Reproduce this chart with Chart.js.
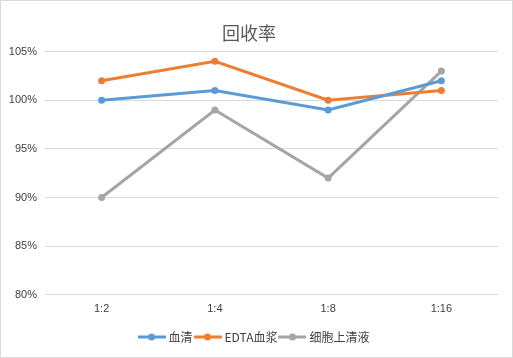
<!DOCTYPE html>
<html>
<head>
<meta charset="utf-8">
<script src="https://cdn.jsdelivr.net/npm/chart.js@4/dist/chart.umd.min.js"></script>
<style>
  html, body { margin: 0; padding: 0; background: #fff; }
  #wrap { width: 513px; height: 358px; }
</style>
</head>
<body>
<div id="wrap"><canvas id="myChart" width="513" height="358"></canvas></div>
<script>
// data
var categories = ['1:2', '1:4', '1:8', '1:16'];
var seriesNames = ['血清', 'EDTA血浆', '细胞上清液'];
var serum = [1.00, 1.01, 0.99, 1.02];
var edtaPlasma = [1.02, 1.04, 1.00, 1.01];
var cellSupernatant = [0.90, 0.99, 0.92, 1.03];
var yTicks = [0.80, 0.85, 0.90, 0.95, 1.00, 1.05];

var colors = ['#5B9BD5', '#ED7D31', '#A5A5A5'];
var cjkFont = '"Noto Sans CJK SC", "Microsoft YaHei", sans-serif';

// little line+dot swatch used as legend marker
function makeSwatch(color) {
    var c = document.createElement('canvas');
    c.width = 28;
    c.height = 8;
    var g = c.getContext('2d');
    g.strokeStyle = color;
    g.lineWidth = 3;
    g.beginPath();
    g.moveTo(0, 4);
    g.lineTo(28, 4);
    g.stroke();
    g.fillStyle = color;
    g.beginPath();
    g.arc(14, 4, 3.5, 0, Math.PI * 2);
    g.fill();
    return c;
}

var frame = {
    id: 'frame',
    afterDraw: function(chart) {
        var g = chart.ctx;
        g.save();
        g.strokeStyle = '#d9d9d9';
        g.lineWidth = 1;
        g.strokeRect(0.5, 0.5, chart.width - 1, chart.height - 1);
        g.restore();
    }
};

// nudge the legend a bit right/down, like the original
var legendShift = {
    id: 'legendShift',
    afterLayout: function(chart) {
        var lg = chart.legend;
        lg.left += 6; lg.right += 6;
        lg.top += 2; lg.bottom += 2;
    }
};

var seriesData = [serum, edtaPlasma, cellSupernatant];
var datasets = seriesData.map(function(d, i) {
    return {
        label: seriesNames[i],
        data: d,
        borderColor: colors[i],
        backgroundColor: colors[i],
        borderWidth: 3,
        pointRadius: 3.5,
        pointHoverRadius: 3.5,
        pointBorderWidth: 0,
        pointStyle: 'circle',
        legendSwatch: makeSwatch(colors[i]),
        tension: 0
    };
});

var ctx = document.getElementById('myChart').getContext('2d');
var myChart = new Chart(ctx, {
    type: 'line',
    data: { labels: categories, datasets: datasets },
    options: {
        responsive: false,
        animation: false,
        devicePixelRatio: 1,
        layout: { padding: { left: 0, right: 15, top: 0, bottom: 7 } },
        plugins: {
            title: {
                display: true,
                text: '回收率',
                color: '#595959',
                font: { family: cjkFont, size: 18, weight: 'normal' },
                padding: { top: 22, bottom: 8 }
            },
            legend: {
                position: 'bottom',
                labels: {
                    usePointStyle: true,
                    pointStyleWidth: 22,
                    padding: 4,
                    color: '#404040',
                    font: { family: cjkFont, size: 12 },
                    generateLabels: function(chart) {
                        return chart.data.datasets.map(function(ds, i) {
                            return {
                                text: ds.label,
                                fillStyle: ds.borderColor,
                                strokeStyle: ds.borderColor,
                                pointStyle: ds.legendSwatch,
                                lineWidth: 0,
                                hidden: false,
                                datasetIndex: i,
                                fontColor: '#404040'
                            };
                        });
                    }
                }
            },
            tooltip: { enabled: false }
        },
        scales: {
            x: {
                offset: true,
                grid: { display: false, drawTicks: false },
                border: { display: false },
                afterFit: function(scale) { scale.height += 1; },
                ticks: {
                    color: '#404040',
                    padding: 8,
                    font: { family: '"Liberation Sans", Arial, sans-serif', size: 11 }
                }
            },
            y: {
                min: 0.80,
                max: 1.05,
                afterBuildTicks: function(scale) {
                    scale.ticks = yTicks.map(function(v) { return { value: v }; });
                },
                afterFit: function(scale) { scale.width = 45; },
                grid: { color: '#d9d9d9', drawTicks: false, lineWidth: 1 },
                border: { display: false },
                ticks: {
                    color: '#404040',
                    padding: 8,
                    font: { family: '"Liberation Sans", Arial, sans-serif', size: 11 },
                    callback: function(v) { return Math.round(v * 100) + '%'; }
                }
            }
        }
    },
    plugins: [frame, legendShift]
});
</script>
</body>
</html>
